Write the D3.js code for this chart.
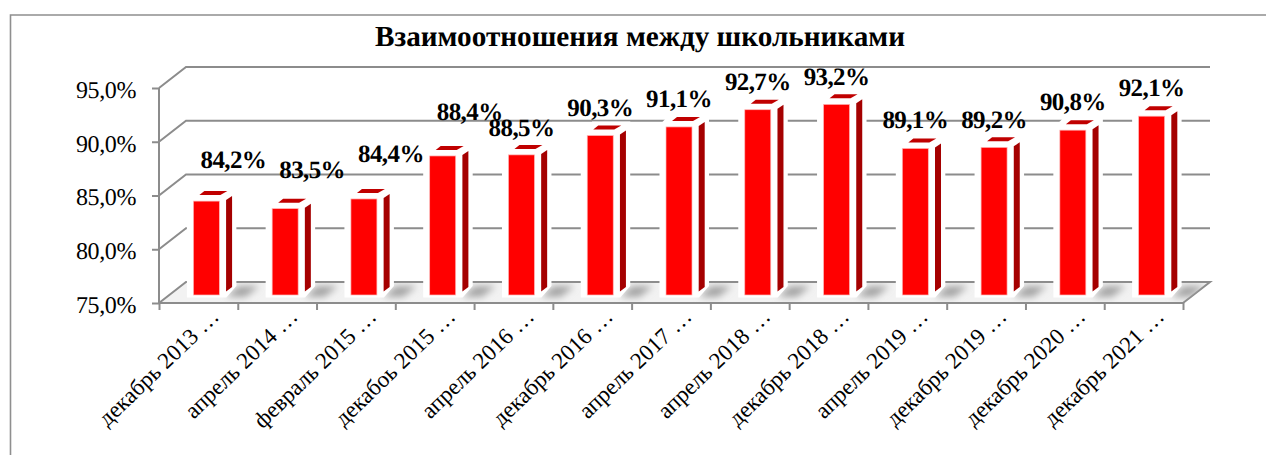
<!DOCTYPE html>
<html><head><meta charset="utf-8">
<script src="https://cdn.jsdelivr.net/npm/d3@7"></script>
<style>
html,body{margin:0;padding:0;background:#fff}
svg{display:block}
text{font-family:"Liberation Serif","Times New Roman",serif;fill:#000;text-rendering:geometricPrecision}
</style></head><body><div id="chart"></div>
<script>
const titleText = "Взаимоотношения между школьниками";
const categories = ["декабрь 2013 …","апрель 2014 …","февраль 2015 …","декабоь 2015 …","апрель 2016 …","декабрь 2016 …","апрель 2017 …","апрель 2018 …","декабрь 2018 …","апрель 2019 …","декабрь 2019 …","декабрь 2020 …","декабрь 2021 …"];
const values = [84.2,83.5,84.4,88.4,88.5,90.3,91.1,92.7,93.2,89.1,89.2,90.8,92.1];
const yTicks = [75,80,85,90,95];
// hand-placed data-label nudges seen in the reference (px above bar top, px right of bar centre)
const labelLift = [33,31,37,36,19,20,20,20,19,20,19,20,20];
const labelShift = [27,27,27,27,0,0,0,0,0,0,0,0,0];

const W=1266,H=455, dx=27, dy=21;
const svg=d3.select("#chart").append("svg").attr("width",W).attr("height",H);
const x=d3.scaleBand().domain(categories).range([159,1183]);
const y=d3.scaleLinear().domain([75,95]).range([303,88]);
const fmt=v=>v.toFixed(1).replace(".",",")+"%";
const defs=svg.append("defs");
defs.append("filter").attr("id","blur").attr("x","-40%").attr("y","-40%").attr("width","180%").attr("height","180%")
  .append("feGaussianBlur").attr("stdDeviation",3.6);
const floorClip=defs.append("clipPath").attr("id","floorClip");
const grey="#8c8c8c";

// frame
svg.append("path").attr("d",`M10.5,${H} V15 H${W}`).attr("fill","none").attr("stroke","#8f8f8f").attr("stroke-width",1.6);

// title
svg.append("text").attr("x",640).attr("y",46).attr("text-anchor","middle").attr("font-weight","bold").attr("font-size",29.2).text(titleText);

// floor
const x0=x.range()[0],x1=x.range()[1],yb=y(75);
const floorPath=`M${x0},${yb} L${x0+dx},${yb-dy} H${x1+dx} L${x1},${yb} Z`;
floorClip.append("path").attr("d",floorPath);
svg.append("path").attr("d",floorPath).attr("fill","#f2f2f2");

// wall gridlines + left wall diagonals
const grid=svg.append("g").attr("fill","none").attr("stroke",grey).attr("stroke-width",2);
grid.selectAll("path").data(yTicks).join("path")
  .attr("d",t=>`M${x0},${y(t)} L${x0+dx},${y(t)-dy} H${x1+dx}`+(t===75?` L${x1},${yb}`:""));

const cx=c=>x(c)+x.bandwidth()/2+8;
const bw=26, base=295;
const barTop=v=>y(v)-3;

// floor shadows
svg.append("g").attr("clip-path","url(#floorClip)").append("g").attr("filter","url(#blur)").selectAll("path").data(categories).join("path")
  .attr("d",c=>{const r=cx(c)+bw/2+7;return `M${r},${base+2} L${r+12},${base-9} H${r+33} L${r+19},${base+2} Z`;})
  .attr("fill","#a4a4a4");

// bars
const bars=svg.append("g").selectAll("g").data(categories).join("g");
bars.each(function(c,i){
  const g=d3.select(this),v=values[i],l=cx(c)-bw/2,r=l+bw,t=barTop(v);
  g.append("path").attr("d",`M${l-6.5},${t-2} L${l+5},${t-14} H${r+17} V${base-9} L${r+7},${base+2.5} H${l-6.5} Z`).attr("fill","#fff");
  g.append("rect").attr("x",l).attr("y",t).attr("width",bw).attr("height",base-t).attr("fill","#ff0000").attr("stroke","#ffb8b8").attr("stroke-width",0.7);
  g.append("path").attr("d",`M${r+6.7},${t-1} L${r+12.7},${t-5} V${base-8} L${r+6.7},${base-3.5} Z`).attr("fill","#a50000");
  g.append("path").attr("d",`M${l+6},${t-6} L${l+11},${t-10} H${r+8} L${r+1},${t-6} Z`).attr("fill","#c00000");
});

// axes
const yAxis=d3.axisLeft(y).tickValues(yTicks).tickSize(7).tickFormat(fmt);
const ga=svg.append("g").attr("transform",`translate(${x0},0)`).call(yAxis);
ga.selectAll("line,path").attr("stroke",grey).attr("stroke-width",2);
ga.select(".domain").attr("d",`M0,${y(95)} V${y(75)}`);
ga.selectAll("text").attr("x",-23).attr("y",1.5).attr("dy","0.33em").attr("font-size",24).attr("letter-spacing",-0.4).attr("font-family",null).style("fill","#000");

const xt=d3.axisBottom(d3.scaleLinear().domain([0,categories.length]).range([x0,x1])).tickValues(d3.range(categories.length+1)).tickSize(7).tickFormat("");
const gx=svg.append("g").attr("transform",`translate(0,${yb})`).call(xt);
gx.selectAll("line,path").attr("stroke",grey).attr("stroke-width",2);
gx.select(".domain").attr("d",`M${x0},0 H${x1}`);

// category labels
svg.append("g").selectAll("text").data(categories).join("text")
  .attr("transform",c=>`translate(${x(c)+x.bandwidth()/2+22},${yb+15}) rotate(-44)`)
  .attr("text-anchor","end").attr("font-size",23).text(c=>c);

// value labels
svg.append("g").selectAll("text").data(values).join("text")
  .attr("x",(v,i)=>cx(categories[i])+labelShift[i]).attr("y",(v,i)=>barTop(v)-labelLift[i])
  .attr("text-anchor","middle").attr("font-weight","bold").attr("font-size",25).attr("letter-spacing",-0.6).text(fmt);
</script></body></html>
